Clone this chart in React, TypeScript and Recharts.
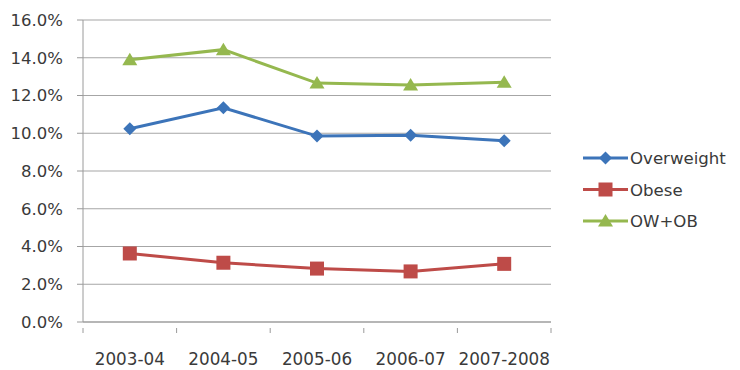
import { LineChart, Line, XAxis, YAxis, CartesianGrid, Legend } from "recharts";

const years = ["2003-04", "2004-05", "2005-06", "2006-07", "2007-2008"];
const overweight = [10.24, 11.35, 9.85, 9.9, 9.6];
const obese = [3.63, 3.14, 2.83, 2.68, 3.08];
const owob = [13.9, 14.43, 12.66, 12.56, 12.7];
const yTicks = [0, 2, 4, 6, 8, 10, 12, 14, 16];

const SERIES = [
  { key: "overweight", label: "Overweight", color: "#3C74B9", shape: "diamond" },
  { key: "obese",      label: "Obese",      color: "#BE4B48", shape: "square"  },
  { key: "owob",       label: "OW+OB",      color: "#95B84F", shape: "triangle" },
] as const;

const data = years.map((y, i) => ({
  year: y,
  overweight: overweight[i],
  obese: obese[i],
  owob: owob[i],
}));

const FONT = "'DejaVu Sans', sans-serif";
const TEXT = "#3A3A3A";
const AXIS = "#9A9A9A";
const BAND = 468 / years.length;

function marker(shape: string, cx: number, cy: number, color: string, k?: string) {
  if (shape === "diamond")
    return <polygon key={k} points={`${cx},${cy - 6.5} ${cx + 6.5},${cy} ${cx},${cy + 6.5} ${cx - 6.5},${cy}`} fill={color} />;
  if (shape === "square")
    return <rect key={k} x={cx - 7} y={cy - 7} width={14} height={14} fill={color} />;
  return <polygon key={k} points={`${cx},${cy - 7} ${cx + 7.5},${cy + 5.5} ${cx - 7.5},${cy + 5.5}`} fill={color} />;
}

function XTick(props: any) {
  const { x, y, payload, index } = props;
  const last = index === years.length - 1;
  return (
    <g>
      <line x1={x - BAND / 2} x2={x - BAND / 2} y1={y - 2} y2={y + 3} stroke={AXIS} />
      {last && <line x1={x + BAND / 2} x2={x + BAND / 2} y1={y - 2} y2={y + 3} stroke={AXIS} />}
      <text x={x} y={y + 35} textAnchor="middle" fill={TEXT} fontSize={16.8} fontFamily={FONT}>
        {payload.value}
      </text>
    </g>
  );
}

function LegendBox() {
  return (
    <svg width={155} height={100}>
      {SERIES.map((s, i) => {
        const cy = 13 + i * 31.5;
        return (
          <g key={s.key}>
            <line x1={0} x2={45} y1={cy} y2={cy} stroke={s.color} strokeWidth={3} />
            {marker(s.shape, 22.5, cy, s.color)}
            <text x={47} y={cy + 6} fill={TEXT} fontSize={16.6} fontFamily={FONT}>{s.label}</text>
          </g>
        );
      })}
    </svg>
  );
}

export default function App() {
  return (
    <div style={{ position: "absolute", left: 0, top: 0, width: 740, height: 370, background: "#fff" }}>
      <LineChart width={740} height={370} data={data} margin={{ top: 20, right: 39, left: 13, bottom: 0 }}>
        <CartesianGrid vertical={false} stroke="#A6A6A6" strokeWidth={1.2} />
        <XAxis
          dataKey="year"
          height={48}
          stroke={AXIS}
          tickLine={false}
          interval={0}
          padding={{ left: BAND / 2, right: BAND / 2 }}
          tick={<XTick />}
        />
        <YAxis
          width={70}
          domain={[0, 16]}
          ticks={yTicks}
          interval={0}
          stroke={AXIS}
          tickSize={6}
          tickMargin={14}
          tickFormatter={(v: number) => `${v.toFixed(1)}%`}
          tick={{ fill: TEXT, fontSize: 16.5, fontFamily: FONT }}
        />
        {SERIES.map((s) => (
          <Line
            key={s.key}
            dataKey={s.key}
            stroke={s.color}
            strokeWidth={3}
            isAnimationActive={false}
            dot={(p: any) => marker(s.shape, p.cx, p.cy, s.color, `${s.key}-${p.index}`)}
            activeDot={false}
          />
        ))}
        <Legend
          layout="vertical"
          align="right"
          verticalAlign="middle"
          content={() => <LegendBox />}
          wrapperStyle={{ position: "absolute", left: 583, top: 145, right: "auto", width: 150, height: 100 }}
        />
      </LineChart>
    </div>
  );
}
